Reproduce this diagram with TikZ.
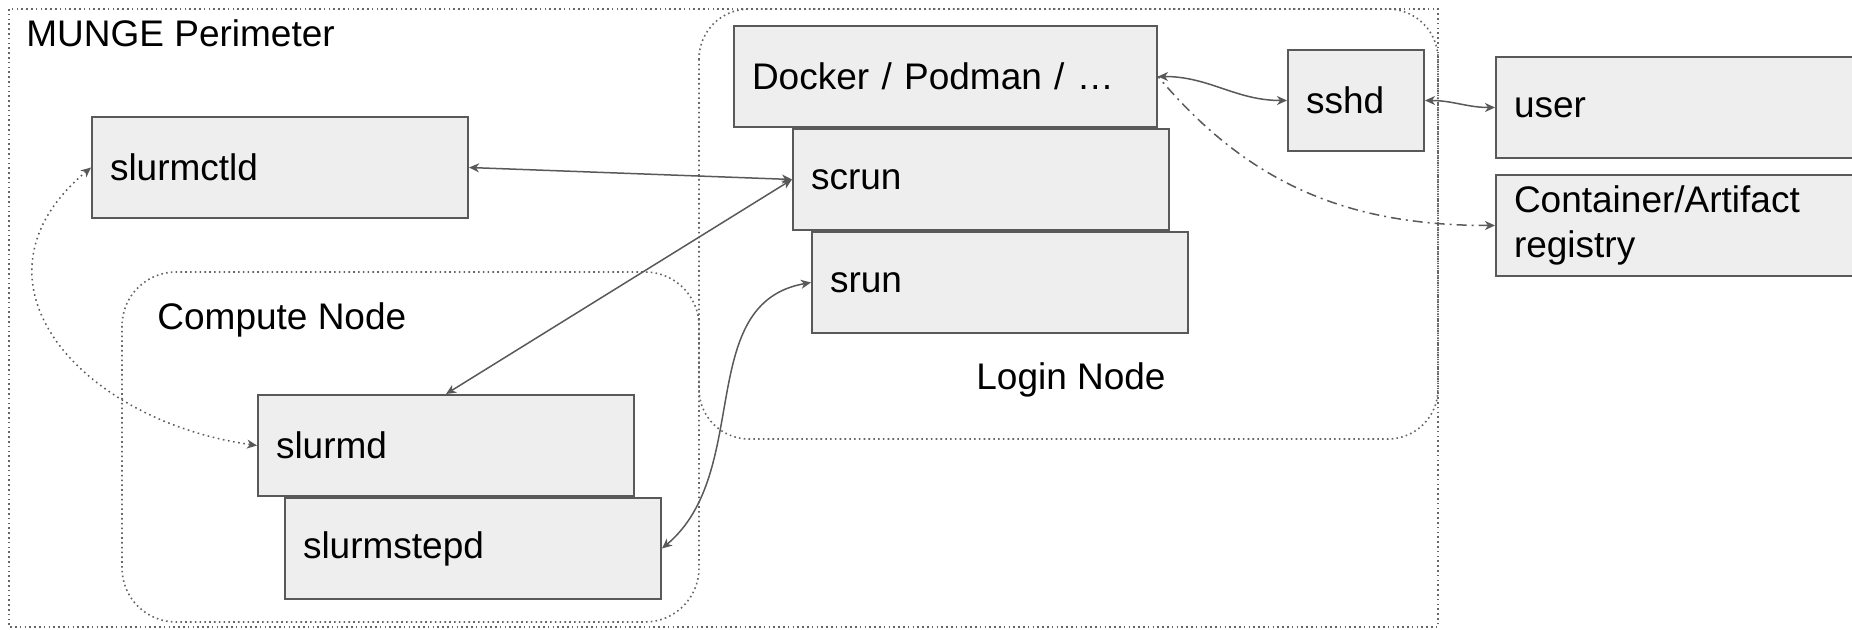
\documentclass[tikz,border=0pt]{standalone}
\usepackage{fontspec}
\setmainfont{Liberation Sans}
\usepackage{tikz}
\usetikzlibrary{positioning, arrows.meta}
\definecolor{boxFill}{RGB}{238, 238, 238}
\definecolor{boxLine}{RGB}{89, 89, 89}
\definecolor{edgeColor}{RGB}{89, 89, 89}
\definecolor{zoneColor}{RGB}{102, 102, 102}
\tikzset{
    proc_box/.style={
        draw=boxLine,
        fill=boxFill,
        line width=1pt,
        anchor=north west,
        align=left,
        inner xsep=9pt,
        inner ysep=0pt,
        text width=170pt,
        minimum height=50.5pt,
        font=\fontsize{18.5}{22.5}\selectfont
    },
    zone_area/.style={
        draw=zoneColor,
        line width=0.8pt,
        dash pattern=on 0.8pt off 1.6pt
    },
    zone_label/.style={
        anchor=base west,
        inner sep=0pt,
        font=\fontsize{18.5}{22.5}\selectfont
    },
    link_edge/.style={
        <->,
        >={Stealth[length=5pt, width=4.5pt, inset=1.5pt]},
        line width=0.75pt,
        draw=edgeColor
    },
    auth_edge/.style={
        link_edge,
        dash pattern=on 0.8pt off 1.8pt
    },
    pull_edge/.style={
        link_edge,
        <-,
        dash pattern=on 5pt off 2.5pt on 1pt off 2.5pt
    }
}
\begin{document}
\begin{tikzpicture}[x=0.5pt, y=-0.5pt]
    \useasboundingbox (0,0) rectangle (1852,630);
    \clip (0,0) rectangle (1852,630);

    % perimeter and hosts
    \draw[zone_area] (9,9) rectangle (1438,627);
    \draw[zone_area, rounded corners=25pt] (699,9) rectangle (1438,439);
    \draw[zone_area, rounded corners=27pt] (122,272) rectangle (699,622);
    \node[zone_label] (munge) at (26,47) {MUNGE Perimeter};
    \node[zone_label] (compute) at (157,330) {Compute Node};
    \node[zone_label, anchor=base] (login) at (1071,390) {Login Node};

    % daemons
    \node[proc_box] (slurmctld) at (91,116) {slurmctld};
    \node[proc_box] (slurmd) at (257,394) {slurmd};
    \node[proc_box, below right=0pt and 13.5pt of slurmd.south west] (slurmstepd) {slurmstepd};
    \node[proc_box, text width=193.5pt] (docker) at (733,25) {Docker / Podman / …};
    \node[proc_box, below right=0pt and 29.5pt of docker.south west] (scrun) {scrun};
    \node[proc_box, below right=0pt and 9.5pt of scrun.south west] (srun) {srun};
    \node[proc_box, text width=50pt] (sshd) at (1287,49) {sshd};
    \node[proc_box, text width=200pt] (user) at (1495,56) {user};
    \node[proc_box, text width=200pt, below=7.5pt of user] (registry) {Container/Artifact\\registry};

    \draw[link_edge] (slurmctld.east) -- (scrun.west);
    \draw[link_edge] (scrun.west) -- (slurmd.north);
    \draw[link_edge] (srun.west) to[out=190, in=40] (slurmstepd.east);
    \draw[auth_edge] (slurmctld.west) to[out=220, in=172, looseness=1.4] (slurmd.west);
    \draw[link_edge] (docker.east) to[out=0, in=180] (sshd.west);
    \draw[link_edge] (sshd.east) to[out=0, in=180] (user.west);
    \draw[pull_edge] (registry.west) to[out=180, in=-50] (docker.east);
\end{tikzpicture}
\end{document}
